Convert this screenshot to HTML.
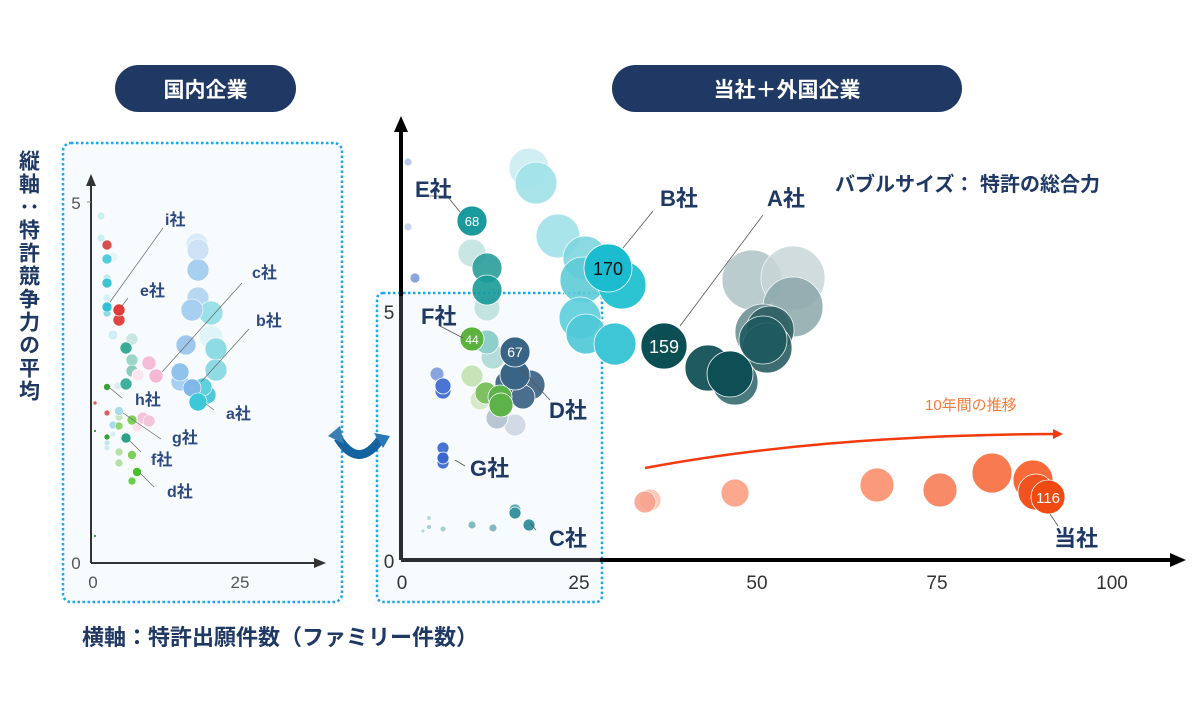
<!DOCTYPE html>
<html><head><meta charset="utf-8"><style>
html,body{margin:0;padding:0;background:#fff;}
svg{display:block;}
.jp{font-family:"Liberation Sans","Noto Sans CJK JP",sans-serif;font-weight:bold;}
.tk{font-family:"Liberation Sans Narrow","Liberation Sans",sans-serif;}
</style></head><body>
<svg width="1200" height="720" viewBox="0 0 1200 720" xmlns="http://www.w3.org/2000/svg">
<defs>
<marker id="ah" markerWidth="10" markerHeight="10" refX="5" refY="5" orient="auto" markerUnits="userSpaceOnUse"><path d="M0,0 L10,5 L0,10 Z" fill="#f23a0c"/></marker>
</defs>
<rect x="115" y="65" width="181" height="47" rx="23.5" fill="#1f3864"/>
<text x="205.5" y="97" class="jp" font-size="21" fill="#fff" text-anchor="middle">国内企業</text>
<rect x="612" y="65" width="350" height="47" rx="23.5" fill="#1f3864"/>
<text x="787" y="97" class="jp" font-size="21" fill="#fff" text-anchor="middle">当社＋外国企業</text>

<text x="28" y="150" class="jp" font-size="21" fill="#1f3864" letter-spacing="2" style="writing-mode:vertical-rl;text-orientation:upright">縦軸：特許競争力の平均</text>

<rect x="63" y="143" width="279" height="459" rx="8" fill="#f7fbfe" stroke="#19a8e8" stroke-width="2.5" stroke-dasharray="2.5 2.5"/>
<rect x="377" y="293" width="225" height="309" rx="6" fill="#f7fbfe" stroke="#19a8e8" stroke-width="2.5" stroke-dasharray="2.5 2.5"/>

<line x1="91" y1="563" x2="91" y2="184" stroke="#333" stroke-width="2"/>
<path d="M91,174 L86,186 L96,186 Z" fill="#333"/>
<line x1="91" y1="563" x2="318" y2="563" stroke="#333" stroke-width="2"/>
<path d="M326,563 L314,558 L314,568 Z" fill="#333"/>
<line x1="87" y1="202" x2="91" y2="202" stroke="#888" stroke-width="1"/>
<g class="tk" font-size="17" fill="#555" text-anchor="middle">
<text x="76" y="209">5</text><text x="76" y="569">0</text>
<text x="93" y="588">0</text><text x="240" y="588">25</text>
</g>

<g stroke="#fff" stroke-width="0.6">
<circle cx="101" cy="216" r="4" fill="#cdeef3"/>
<circle cx="101" cy="238" r="4" fill="#cdeef3"/>
<circle cx="107" cy="245" r="5" fill="#d65050"/>
<circle cx="113" cy="257" r="5" fill="#e6f4f8"/>
<circle cx="107" cy="259" r="5" fill="#55ccdd"/>
<circle cx="107" cy="278" r="4" fill="#bfe8ef"/>
<circle cx="107" cy="283" r="5" fill="#3cc4d4"/>
<circle cx="107" cy="298" r="4" fill="#d5eff4"/>
<circle cx="107" cy="313" r="4" fill="#8fdbe4"/>
<circle cx="107" cy="307" r="5" fill="#30c2d2"/>
<circle cx="119" cy="320" r="6" fill="#e04545"/>
<circle cx="119" cy="310" r="6" fill="#e03a3a"/>
<circle cx="113" cy="335" r="5" fill="#d3eef4"/>
<circle cx="132" cy="339" r="6" fill="#c9e6df"/>
<circle cx="126" cy="348" r="6" fill="#3aab96"/>
<circle cx="132" cy="360" r="6" fill="#9cd6c8"/>
<circle cx="132" cy="371" r="6" fill="#8ccabb"/>
<circle cx="138" cy="375" r="6" fill="#fbe6ef"/>
<circle cx="149" cy="363" r="7" fill="#f4bcd6"/>
<circle cx="156" cy="376" r="7" fill="#f4b8d2"/>
<circle cx="118" cy="386" r="4" fill="#d8eef3"/>
<circle cx="126" cy="384" r="6" fill="#40b09a"/>
<circle cx="107" cy="387" r="3.5" fill="#3c9e3c"/>
<circle cx="95" cy="403" r="2" fill="#e06060"/>
<circle cx="107" cy="413" r="3" fill="#e06060"/>
<circle cx="137" cy="427" r="5" fill="#fbe2ec"/>
<circle cx="143" cy="418" r="6" fill="#f4c4da"/>
<circle cx="149" cy="421" r="6" fill="#f4c4da"/>
<circle cx="119" cy="417" r="4" fill="#c4e8c0"/>
<circle cx="119" cy="411" r="4.5" fill="#a9dce8"/>
<circle cx="132" cy="420" r="5" fill="#7ed05a"/>
<circle cx="113" cy="425" r="4" fill="#a9dce8"/>
<circle cx="119" cy="426" r="4" fill="#8dd670"/>
<circle cx="95" cy="431" r="1.5" fill="#3c9e3c"/>
<circle cx="113" cy="434" r="3" fill="#d8eef3"/>
<circle cx="107" cy="437" r="3" fill="#3c9e3c"/>
<circle cx="107" cy="443" r="3" fill="#bfe5ee"/>
<circle cx="107" cy="448" r="3" fill="#cfeaf1"/>
<circle cx="126" cy="438" r="5" fill="#2da08a"/>
<circle cx="119" cy="452" r="4" fill="#b5e0a5"/>
<circle cx="132" cy="455" r="4.5" fill="#7ed05a"/>
<circle cx="119" cy="463" r="4" fill="#b5e0a5"/>
<circle cx="137" cy="472" r="4.5" fill="#45c02a"/>
<circle cx="132" cy="481" r="4" fill="#6ad04a"/>
<circle cx="95" cy="536" r="1.5" fill="#3c9e3c"/>
<circle cx="197" cy="244" r="11" fill="#dcebf8"/>
<circle cx="198" cy="250" r="11" fill="#cde3f5"/>
<circle cx="198" cy="270" r="11" fill="#a6cff0"/>
<circle cx="198" cy="298" r="11" fill="#b8d8f2"/>
<circle cx="211" cy="337" r="12" fill="#dff4f8"/>
<circle cx="211" cy="313" r="12" fill="#9ae0e8"/>
<circle cx="192" cy="310" r="11" fill="#a6cff0"/>
<circle cx="216" cy="349" r="11" fill="#8edbe4"/>
<circle cx="186" cy="345" r="10" fill="#a0c8ee"/>
<circle cx="216" cy="370" r="11" fill="#8edbe4"/>
<circle cx="180" cy="382" r="9" fill="#a6cff0"/>
<circle cx="180" cy="372" r="9" fill="#90c2ec"/>
<circle cx="207" cy="395" r="9" fill="#50c8d8"/>
<circle cx="203" cy="387" r="9" fill="#60d0dc"/>
<circle cx="192" cy="388" r="9" fill="#7fb8e8"/>
<circle cx="198" cy="402" r="9" fill="#3cc8d8"/>
</g>
<g stroke="#666" stroke-width="0.7" fill="none">
<path d="M163,228 L110,302"/><path d="M128,298 L122,306"/>
<path d="M242,283 L162,372"/><path d="M249,329 L201,382"/>
<path d="M110,388 L122,398"/><path d="M123,413 L161,439"/>
<path d="M129,440 L141,452"/><path d="M140,473 L154,487"/>
<path d="M206,404 L214,410"/>
</g>
<g class="jp" font-size="16" fill="#2f4a80">
<text x="165" y="225">i社</text><text x="140" y="296">e社</text>
<text x="252" y="278">c社</text><text x="256" y="326">b社</text>
<text x="135" y="405">h社</text><text x="226" y="419">a社</text>
<text x="172" y="443">g社</text><text x="151" y="465">f社</text>
<text x="167" y="497">d社</text>
</g>

<path d="M338,438 Q358,470 380,440" stroke="#1462a0" stroke-width="9" fill="none"/>
<path d="M328,436 L340,426 L344,444 Z" fill="#3a7fb4"/>
<path d="M390,436 L374,433 L383,448 Z" fill="#2a78b8"/>

<line x1="401" y1="560" x2="401" y2="128" stroke="#000" stroke-width="4"/>
<line x1="401" y1="560" x2="401" y2="296" stroke="#2b2f33" stroke-width="4"/>
<path d="M401,116 L394,132 L408,132 Z" fill="#000"/>
<line x1="401" y1="560" x2="1172" y2="560" stroke="#000" stroke-width="4"/>
<line x1="401" y1="560" x2="600" y2="560" stroke="#2b2f33" stroke-width="4"/>
<path d="M1186,560 L1170,553 L1170,567 Z" fill="#000"/>
<g class="tk" font-size="19" fill="#333" text-anchor="middle">
<text x="389" y="319">5</text><text x="389" y="568">0</text>
<text x="402" y="589">0</text><text x="579" y="589">25</text>
<text x="757" y="589">50</text><text x="937" y="589">75</text>
<text x="1112" y="589">100</text>
</g>

<text x="835" y="191" class="jp" font-size="20" fill="#1f3864">バブルサイズ： 特許の総合力</text>

<g stroke="#fff" stroke-width="0.8">
<circle cx="408" cy="162" r="4" fill="#b8c8ec"/>
<circle cx="408" cy="227" r="4" fill="#c8d4f0"/>
<circle cx="415" cy="278" r="5" fill="#8aa4e0"/>
<circle cx="529" cy="168" r="20" fill="#cdeef2" opacity="0.9"/>
<circle cx="536" cy="183" r="21" fill="#a0e2e9" opacity="0.9"/>
<circle cx="472" cy="253" r="14" fill="#c8e6e4"/>
<circle cx="487" cy="308" r="13" fill="#c4e4e2"/>
<circle cx="487" cy="268" r="15" fill="#2a9d9a" opacity="0.9"/>
<circle cx="487" cy="290" r="15" fill="#1a9a9a" opacity="0.9"/>
<circle cx="472" cy="221" r="15" fill="#1a9a9a"/>
<circle cx="558" cy="236" r="22" fill="#a8e4ea"/>
<circle cx="585" cy="258" r="22" fill="#7fd6e0" opacity="0.9"/>
<circle cx="583" cy="280" r="23" fill="#5fcbd8" opacity="0.9"/>
<circle cx="622" cy="285" r="24" fill="#2cc3d3"/>
<circle cx="608" cy="268" r="24" fill="#1bbccf"/>
<circle cx="580" cy="318" r="21" fill="#5fcfdc" opacity="0.9"/>
<circle cx="586" cy="334" r="20" fill="#4fc8d8" opacity="0.9"/>
<circle cx="615" cy="344" r="21" fill="#3fc6d6"/>
<circle cx="752" cy="280" r="30" fill="#b8cacc" opacity="0.95"/>
<circle cx="793" cy="278" r="32" fill="#c8d6d8" opacity="0.85"/>
<circle cx="793" cy="307" r="30" fill="#8aa7aa" opacity="0.85"/>
<circle cx="763" cy="332" r="28" fill="#6e9296" opacity="0.9"/>
<circle cx="770" cy="330" r="24" fill="#2f5f63" opacity="0.9"/>
<circle cx="767" cy="348" r="25" fill="#2a5e62" opacity="0.9"/>
<circle cx="763" cy="340" r="24" fill="#1e5a60" opacity="0.9"/>
<circle cx="708" cy="368" r="23" fill="#1e5a60"/>
<circle cx="735" cy="382" r="23" fill="#4a7a7e"/>
<circle cx="730" cy="374" r="23" fill="#0d4f55"/>
<circle cx="664" cy="346" r="23" fill="#0b4f55"/>
<circle cx="493" cy="357" r="12" fill="#b4dcda"/>
<circle cx="487" cy="342" r="12" fill="#8fcfcb"/>
<circle cx="472" cy="339" r="12" fill="#5bb33d"/>
<circle cx="472" cy="376" r="11" fill="#c9e3b9"/>
<circle cx="515" cy="425" r="11" fill="#d2dbe5"/>
<circle cx="497" cy="418" r="11" fill="#b8c6d4"/>
<circle cx="480" cy="400" r="10" fill="#d4eac8"/>
<circle cx="530" cy="385" r="15" fill="#4a6f8e"/>
<circle cx="507" cy="383" r="12" fill="#4a6f8e"/>
<circle cx="523" cy="397" r="12" fill="#4a6f8e"/>
<circle cx="515" cy="375" r="15" fill="#3a6486"/>
<circle cx="515" cy="352" r="15" fill="#3a6486"/>
<circle cx="486" cy="393" r="11" fill="#7fc160"/>
<circle cx="500" cy="397" r="12" fill="#5db34a"/>
<circle cx="501" cy="405" r="12" fill="#5db34a"/>
<circle cx="437" cy="374" r="7" fill="#8aa4e0"/>
<circle cx="443" cy="391" r="8" fill="#4a74d4"/>
<circle cx="443" cy="386" r="8" fill="#4a74d4"/>
<circle cx="443" cy="448" r="6" fill="#4a74d4"/>
<circle cx="443" cy="463" r="6" fill="#4a74d4"/>
<circle cx="443" cy="458" r="6" fill="#3a68d0"/>
<circle cx="515" cy="510" r="6" fill="#5aa8b2"/>
<circle cx="515" cy="513" r="6" fill="#3a93a0"/>
<circle cx="529" cy="525" r="6" fill="#3a93a0"/>
<circle cx="493" cy="528" r="4" fill="#7fbac4"/>
<circle cx="472" cy="525" r="4" fill="#7fbac4"/>
<circle cx="443" cy="529" r="3" fill="#a5cfd6"/>
<circle cx="429" cy="527" r="2.5" fill="#a5cfd6"/>
<circle cx="429" cy="518" r="2.5" fill="#b8d8de"/>
<circle cx="423" cy="531" r="2" fill="#b8d8de"/>
<circle cx="650" cy="500" r="11" fill="#fcc4b4" opacity="0.9"/>
<circle cx="645" cy="502" r="11" fill="#f8a18a" opacity="0.85"/>
<circle cx="735" cy="493" r="14" fill="#fba88e"/>
<circle cx="877" cy="485" r="17" fill="#fb9a7a"/>
<circle cx="940" cy="490" r="17" fill="#f98a68"/>
<circle cx="992" cy="473" r="20" fill="#f87a50"/>
<circle cx="1033" cy="480" r="20" fill="#f86a3a"/>
<circle cx="1036" cy="492" r="18" fill="#f0531f"/>
<circle cx="1048" cy="497" r="17" fill="#f04a12"/>
</g>
<g class="tk" text-anchor="middle" fill="#fff">
<text x="472" y="226" font-size="13">68</text>
<text x="608" y="275" font-size="18" fill="#111">170</text>
<text x="664" y="353" font-size="18">159</text>
<text x="472" y="344" font-size="12">44</text>
<text x="515" y="357" font-size="14">67</text>
<text x="1048" y="503" font-size="15">116</text>
</g>
<g stroke="#555" stroke-width="0.8" fill="none">
<path d="M420,196 L447,196 L460,212"/>
<path d="M653,211 L623,248"/>
<path d="M763,215 L680,326"/>
<path d="M440,326 L463,338"/>
<path d="M520,368 L550,400"/>
<path d="M455,460 L465,466"/>
<path d="M530,523 L536,530"/>
<path d="M1050,514 L1058,526"/>
</g>
<g class="jp" font-size="22" fill="#1f3864">
<text x="415" y="197">E社</text>
<text x="660" y="206">B社</text>
<text x="767" y="206">A社</text>
<text x="421" y="324">F社</text>
<text x="549" y="418">D社</text>
<text x="470" y="476">G社</text>
<text x="549" y="546">C社</text>
<text x="1054" y="546">当社</text>
</g>
<path d="M645,468 Q820,435 1058,434" stroke="#f23a0c" stroke-width="2.5" fill="none" marker-end="url(#ah)"/>
<text x="925" y="410" font-family="Liberation Sans,Noto Sans CJK JP,sans-serif" font-size="15" fill="#f57a36">10年間の推移</text>

<text x="82" y="645" class="jp" font-size="22" fill="#1f3864">横軸：特許出願件数（ファミリー件数）</text>
</svg>
</body></html>
